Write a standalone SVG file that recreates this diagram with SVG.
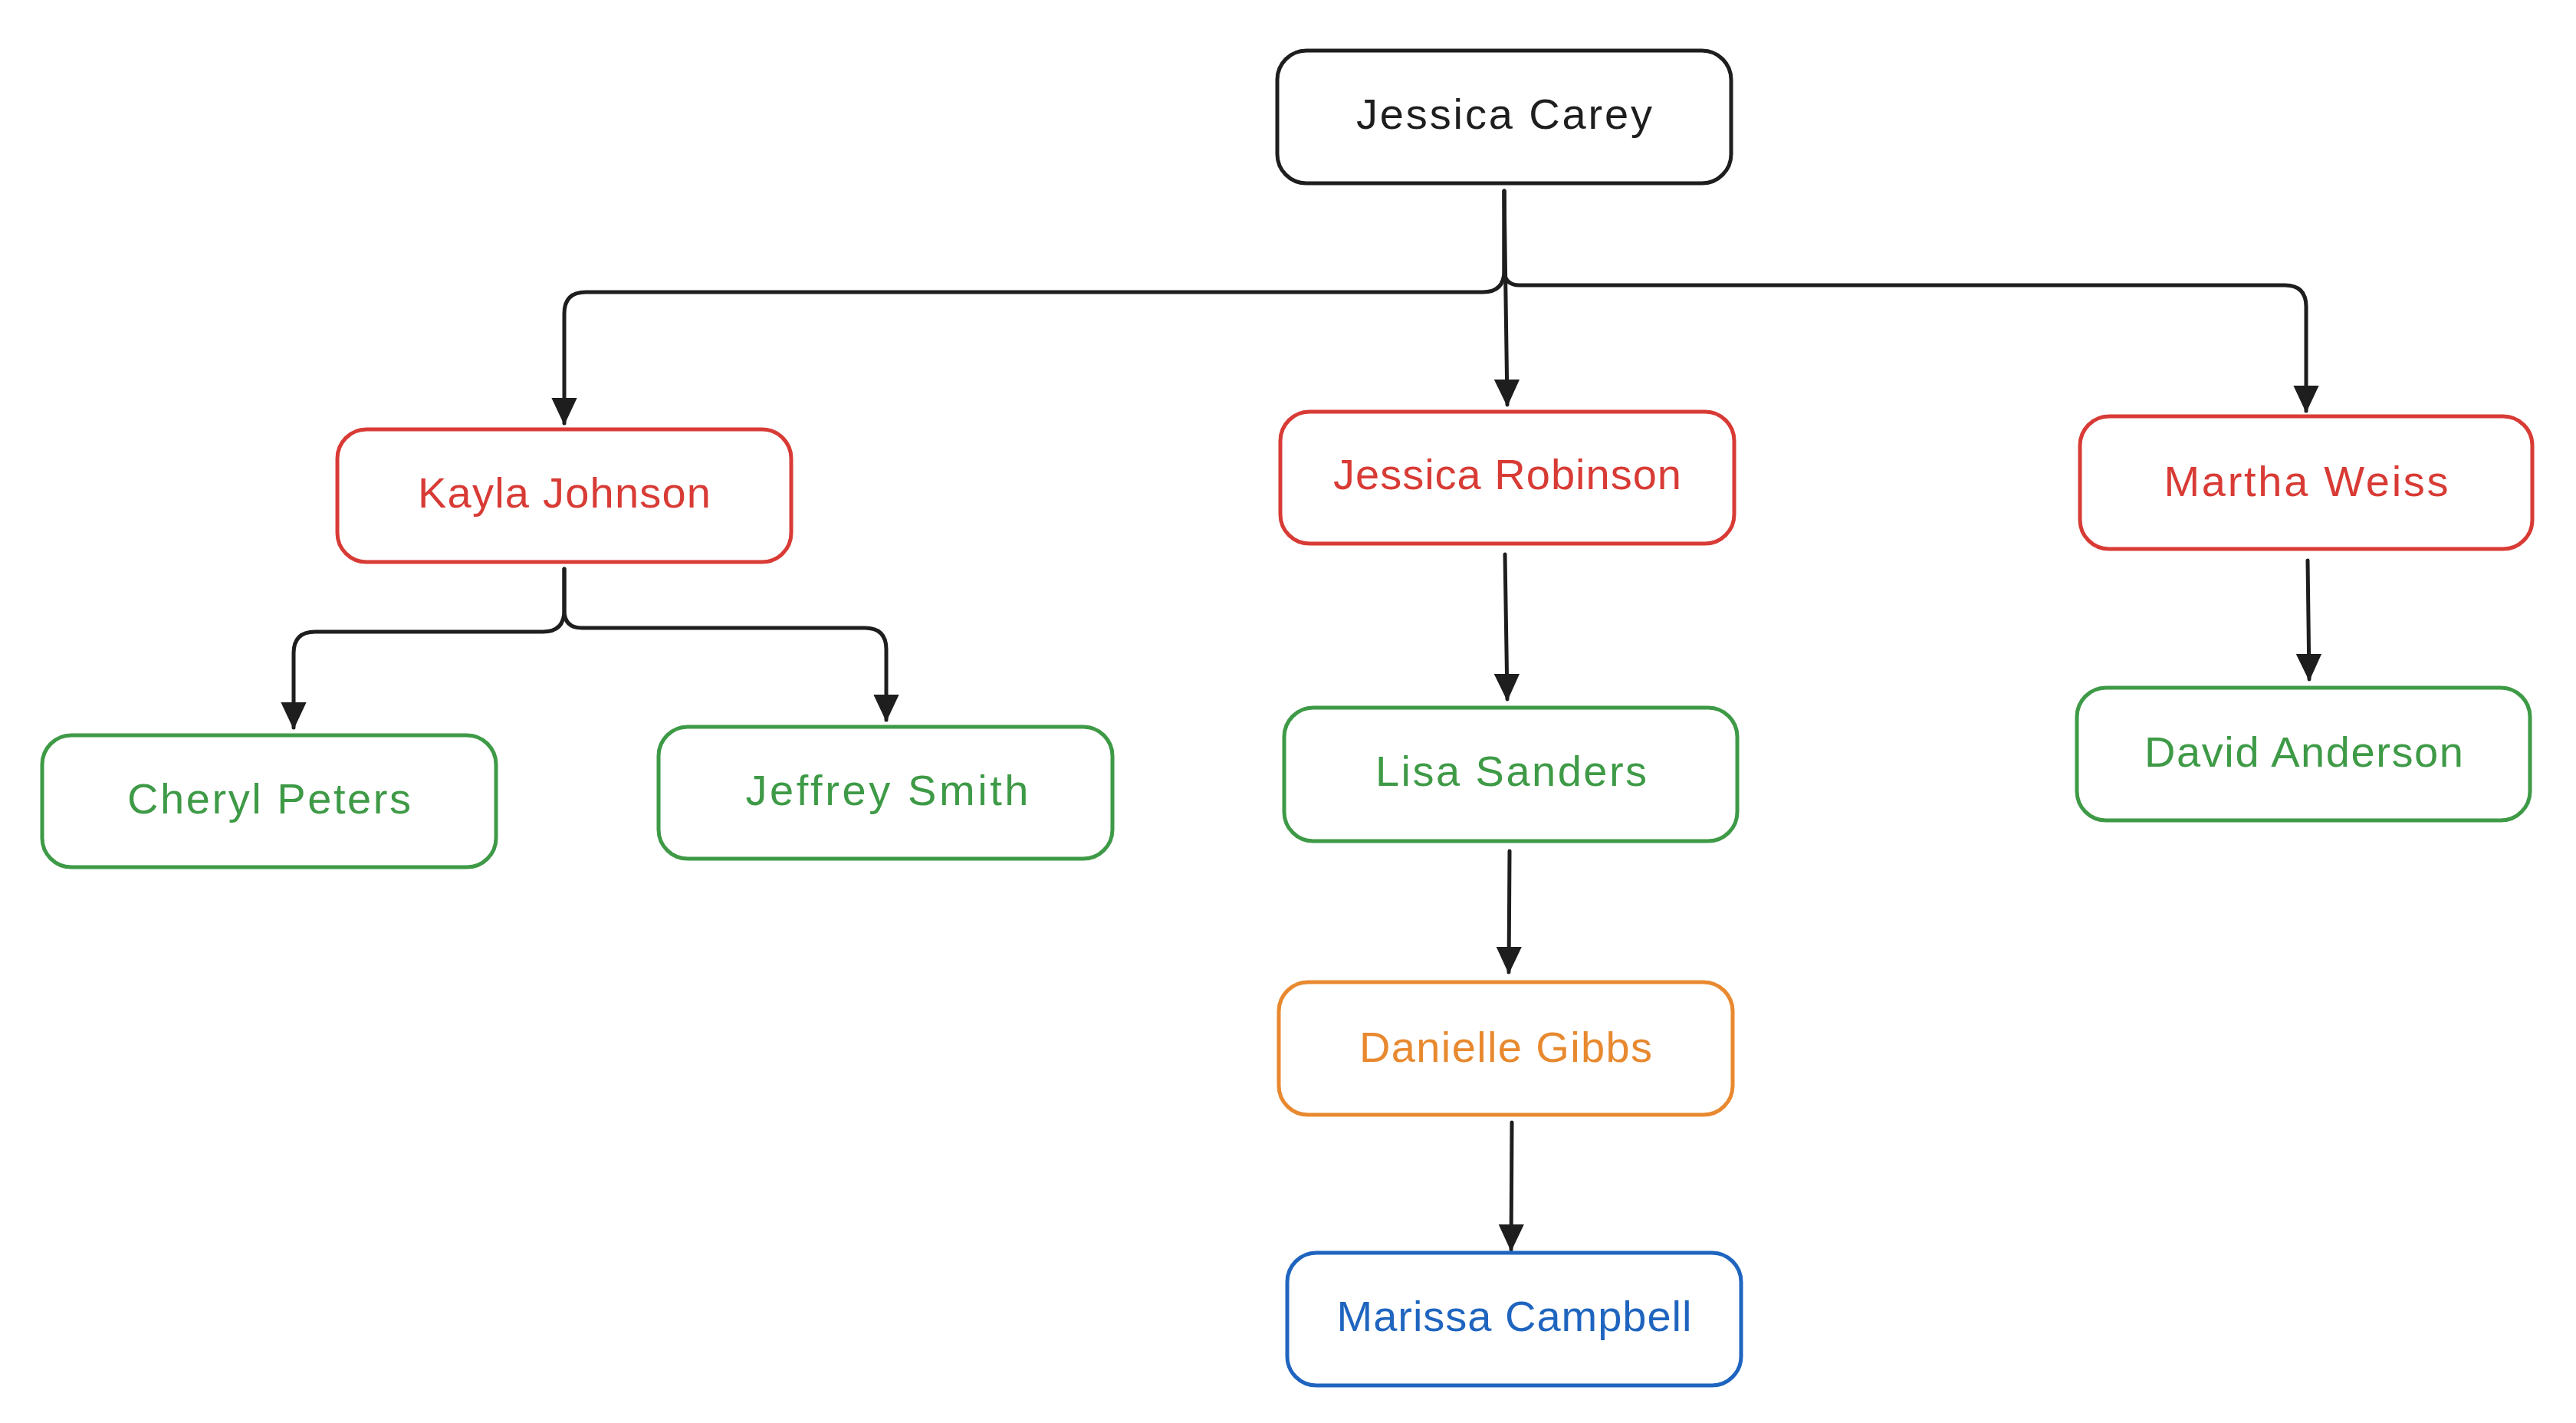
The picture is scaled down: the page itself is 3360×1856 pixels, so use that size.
<svg xmlns="http://www.w3.org/2000/svg" width="3360" height="1856" viewBox="0 0 3360 1856">
<defs>
<style>
.box{fill:#ffffff;stroke-width:5;stroke-linejoin:round}
.lbl{font-family:"Liberation Sans","DejaVu Sans",sans-serif;font-size:56px;text-anchor:middle}
.k{stroke:#1e1e1e}.kt{fill:#1e1e1e}
.r{stroke:#d83b35}.rt{fill:#d83b35}
.g{stroke:#3e9a46}.gt{fill:#3e9a46}
.o{stroke:#e8892f}.ot{fill:#e8892f}
.b{stroke:#1f65bf}.bt{fill:#1f65bf}
.conn{fill:none;stroke:#1e1e1e;stroke-width:5;stroke-linecap:round;stroke-linejoin:round}
</style>
<marker id="ah" markerUnits="userSpaceOnUse" viewBox="0 0 34 34" markerWidth="34" markerHeight="34" refX="33" refY="17" orient="auto">
<path d="M0,1.5 L33,17 L0,32.5 Z" fill="#1e1e1e" stroke="#1e1e1e" stroke-width="2" stroke-linejoin="round"/>
</marker>
</defs>
<rect width="3360" height="1856" fill="#ffffff"/>
<g id="connectors">
<path class="conn" marker-end="url(#ah)" d="M1962,249 L1962,353 Q1962,381 1934,381 L764,381 Q736,381 736,409 L736,552"/>
<path class="conn" marker-end="url(#ah)" d="M1962,249 L1966,528"/>
<path class="conn" marker-end="url(#ah)" d="M1962,249 L1962,352 Q1962,372 1982,372 L2980,372 Q3008,372 3008,400 L3008,536"/>
<path class="conn" marker-end="url(#ah)" d="M736,742 L736,796 Q736,824 708,824 L411,824 Q383,824 383,852 L383,949"/>
<path class="conn" marker-end="url(#ah)" d="M736,742 L736,796 Q736,819 759,819 L1128,819 Q1156,819 1156,847 L1156,939"/>
<path class="conn" marker-end="url(#ah)" d="M1963,723 L1966,912"/>
<path class="conn" marker-end="url(#ah)" d="M1969,1110 L1968,1268"/>
<path class="conn" marker-end="url(#ah)" d="M1972,1464 L1971,1630"/>
<path class="conn" marker-end="url(#ah)" d="M3010,731 L3012,886"/>
</g>
<g id="node-jessica-carey">
<rect class="box k" x="1666" y="66" width="592" height="173" rx="38"/>
<text class="lbl kt" x="1962" y="168" textLength="386">Jessica Carey</text>
</g>
<g id="node-kayla-johnson">
<rect class="box r" x="440" y="560" width="592" height="173" rx="38"/>
<text class="lbl rt" x="736" y="662" textLength="382">Kayla Johnson</text>
</g>
<g id="node-jessica-robinson">
<rect class="box r" x="1670" y="537" width="592" height="172" rx="38"/>
<text class="lbl rt" x="1966" y="638" textLength="454">Jessica Robinson</text>
</g>
<g id="node-martha-weiss">
<rect class="box r" x="2713" y="543" width="590" height="173" rx="38"/>
<text class="lbl rt" x="3008" y="647" textLength="371">Martha Weiss</text>
</g>
<g id="node-cheryl-peters">
<rect class="box g" x="55" y="959" width="592" height="172" rx="38"/>
<text class="lbl gt" x="351" y="1061" textLength="370">Cheryl Peters</text>
</g>
<g id="node-jeffrey-smith">
<rect class="box g" x="859" y="948" width="592" height="172" rx="38"/>
<text class="lbl gt" x="1157" y="1050" textLength="369">Jeffrey Smith</text>
</g>
<g id="node-lisa-sanders">
<rect class="box g" x="1675" y="923" width="591" height="174" rx="38"/>
<text class="lbl gt" x="1971" y="1025" textLength="354">Lisa Sanders</text>
</g>
<g id="node-david-anderson">
<rect class="box g" x="2709" y="897" width="591" height="173" rx="38"/>
<text class="lbl gt" x="3005" y="1000" textLength="416">David Anderson</text>
</g>
<g id="node-danielle-gibbs">
<rect class="box o" x="1668" y="1281" width="592" height="173" rx="38"/>
<text class="lbl ot" x="1964" y="1385" textLength="382">Danielle Gibbs</text>
</g>
<g id="node-marissa-campbell">
<rect class="box b" x="1679" y="1634" width="592" height="173" rx="38"/>
<text class="lbl bt" x="1975" y="1736" textLength="463">Marissa Campbell</text>
</g>
</svg>
